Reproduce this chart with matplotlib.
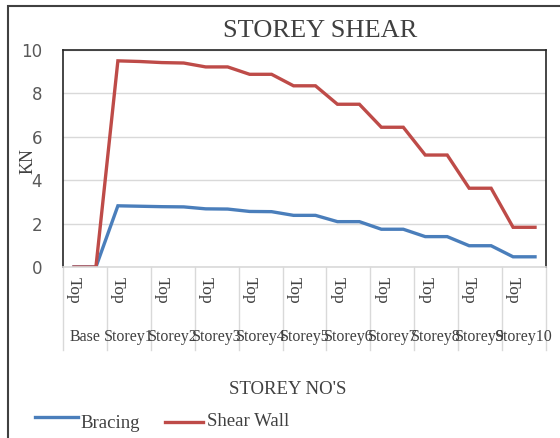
import numpy as np
import matplotlib
matplotlib.use("Agg")
import matplotlib.pyplot as plt
from matplotlib.lines import Line2D
from matplotlib.patches import Rectangle

# === DATA ===
groups = ["Base", "Storey1", "Storey2", "Storey3", "Storey4", "Storey5",
          "Storey6", "Storey7", "Storey8", "Storey9", "Storey10"]
point_labels = ["Top", ""] * len(groups)

bracing = [0, 0, 2.82, 2.80, 2.78, 2.77, 2.68, 2.67, 2.56, 2.55, 2.38, 2.38,
           2.09, 2.09, 1.74, 1.74, 1.40, 1.40, 0.98, 0.98, 0.47, 0.47]
shear_wall = [0, 0, 9.50, 9.47, 9.42, 9.40, 9.22, 9.22, 8.88, 8.88, 8.35, 8.35,
              7.50, 7.50, 6.44, 6.44, 5.16, 5.16, 3.63, 3.63, 1.83, 1.83]

# === STYLE ===
serif = ["Liberation Serif", "DejaVu Serif"]
blue = "#4a7ebb"
red = "#be4b48"
txt = "#404040"
tick_c = "#595959"

fig = plt.figure(figsize=(5.6, 4.38), dpi=100)
ax = fig.add_axes([63 / 560, 1 - 267 / 438, (546 - 63) / 560, (267 - 50) / 438])

x = np.arange(len(bracing))
ax.plot(x, bracing, color=blue, lw=2.4, solid_joinstyle="miter")
ax.plot(x, shear_wall, color=red, lw=2.4, solid_joinstyle="miter")

ax.set_xlim(-0.5, len(bracing) - 0.5)
ax.set_ylim(0, 10)
ax.set_yticks([0, 2, 4, 6, 8, 10])
ax.yaxis.grid(True, color="#d9d9d9", lw=1)
ax.set_axisbelow(True)
for s in ax.spines.values():
    s.set_color("#262626")
    s.set_linewidth(1.2)
ax.spines["bottom"].set_color("#d9d9d9")

ax.tick_params(axis="y", length=0, pad=15, labelsize=12, labelcolor=tick_c)
for lab in ax.get_yticklabels():
    lab.set_fontfamily(["DejaVu Sans"])
ax.set_xticks(x)
ax.set_xticklabels(point_labels, rotation=-90, fontsize=12.5, color=txt, family=serif)
ax.tick_params(axis="x", length=0, pad=7)

# group labels (they overlap in the original too) and separators below the axis
for i, g in enumerate(groups):
    ax.text(2 * i + 0.5, -70 / 21.7, g, ha="center", va="center", fontsize=11.5,
            color=txt, family=serif, clip_on=False)
for i in range(len(groups) + 1):
    ax.add_line(Line2D([2 * i - 0.5, 2 * i - 0.5], [0, -83 / 21.7], color="#d9d9d9",
                       lw=1, clip_on=False))

ax.set_ylabel("KN", fontsize=13, color=txt, family=serif)
ax.yaxis.set_label_coords(-26 / 483, 0.49)

fig.text(320 / 560, 1 - 31 / 438, "STOREY SHEAR", ha="center", va="center",
         fontsize=19, color=txt, family=serif)
fig.text(288 / 560, 1 - 390 / 438, "STOREY NO'S", ha="center", va="center",
         fontsize=13.5, color=txt, family=serif)

# legend drawn by hand
fig.add_artist(Line2D([35 / 560, 78 / 560], [1 - 417 / 438] * 2, color=blue, lw=2.4))
fig.text(80 / 560, 1 - 424 / 438, "Bracing", ha="left", va="center",
         fontsize=13.5, color=txt, family=serif)
fig.add_artist(Line2D([165 / 560, 203 / 560], [1 - 422 / 438] * 2, color=red, lw=2.4))
fig.text(207 / 560, 1 - 421 / 438, "Shear Wall", ha="left", va="center",
         fontsize=13.5, color=txt, family=serif)

# outer chart border
fig.add_artist(Rectangle((8 / 560, -0.05), 1.1, 1 - 6 / 438 + 0.05, transform=fig.transFigure,
                         fill=False, edgecolor="#404040", lw=1.5))

fig.savefig("out.png", dpi=100)
